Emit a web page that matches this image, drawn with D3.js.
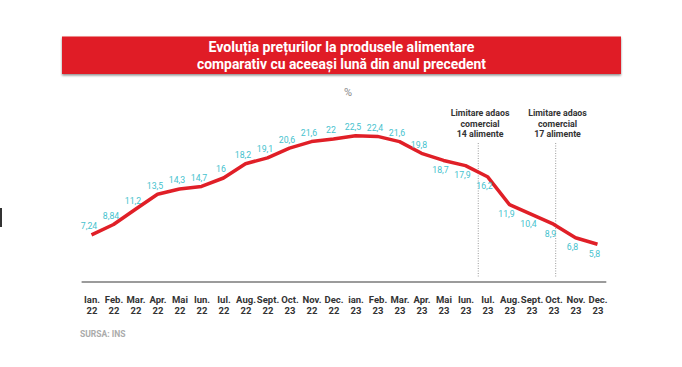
<!DOCTYPE html>
<html>
<head>
<meta charset="utf-8">
<script src="https://cdn.jsdelivr.net/npm/d3@7/dist/d3.min.js"></script>
<style>
  html, body { margin: 0; padding: 0; background: #fff; }
  svg { display: block; }
  text { font-family: Roboto, "Noto Sans", sans-serif; }
</style>
</head>
<body>
<svg id="chart" width="682" height="367"></svg>
<script>
// ---- data ----
const months = ["Ian.","Feb.","Mar.","Apr.","Mai","Iun.","Iul.","Aug.","Sept.","Oct.","Nov.","Dec.",
                "ian.","Feb.","Mar.","Apr.","Mai","Iun.","Iul.","Aug.","Sept.","Oct.","Nov.","Dec."];
const years = ["22","22","22","22","22","22","22","22","22","23","22","22",
               "23","23","23","23","23","23","23","23","23","23","23","23"];
const values = [7.24, 8.84, 11.2, 13.5, 14.3, 14.7, 16, 18.2, 19.1, 20.6, 21.6, 22,
                22.5, 22.4, 21.6, 19.8, 18.7, 17.9, 16.2, 11.9, 10.4, 8.9, 6.8, 5.8];
const valueLabels = ["7,24","8,84","11,2","13,5","14,3","14,7","16","18,2","19,1","20,6","21,6","22",
                     "22,5","22,4","21,6","19,8","18,7","17,9","16,2","11,9","10,4","8,9","6,8","5,8"];
const annotationAt = [17.58, 21.1];
const annotationLines = [["Limitare adaos","comercial","14 alimente"],
                         ["Limitare adaos","comercial","17 alimente"]];
const titleLines = ["Evoluția prețurilor la produsele alimentare",
                    "comparativ cu aceeași lună din anul precedent"];
const unitLabel = "%";
const sourceLabel = "SURSA: INS";

// ---- drawing ----
const svg = d3.select("#chart");
const x = d3.scaleLinear().domain([0, 23]).range([91.5, 597.5]);
const y = d3.scaleLinear().domain([0, 22.5]).range([282, 135.75]);

const defs = svg.append("defs");
const f = defs.append("filter").attr("id","sh").attr("x","-5%").attr("y","-20%").attr("width","110%").attr("height","160%");
f.append("feDropShadow").attr("dx",0).attr("dy",1.5).attr("stdDeviation",1.2)
  .attr("flood-color","#000").attr("flood-opacity",0.45);

// small artifact at left edge
svg.append("rect").attr("x",0).attr("y",208).attr("width",2).attr("height",19).attr("fill","#333");

// banner
svg.append("rect").attr("x",62).attr("y",36.5).attr("width",559).attr("height",37.5)
  .attr("fill","#e01f27").attr("filter","url(#sh)");
const tl = [266, 289];
titleLines.forEach((t,i) => {
  svg.append("text").attr("x",341.5).attr("y",52 + i*17)
    .attr("text-anchor","middle").attr("font-size",14.5).attr("font-weight",700)
    .attr("fill","#fff").attr("textLength", tl[i]).attr("lengthAdjust","spacingAndGlyphs")
    .text(t);
});

// unit
svg.append("text").attr("x",348).attr("y",96).attr("text-anchor","middle")
  .attr("font-size",11).attr("fill","#8a8a8a").text(unitLabel);

// baseline
svg.append("line").attr("x1", x(-0.45)).attr("x2", x(23.4)).attr("y1", y(0)).attr("y2", y(0))
  .attr("stroke","#7a7a7a").attr("stroke-width",1.5);

// axis (labels only)
const axis = d3.axisBottom(x).tickValues(d3.range(24)).tickSize(0).tickFormat("");
const ax = svg.append("g").attr("transform",`translate(0,${y(0)})`).call(axis);
ax.select(".domain").remove();
ax.selectAll(".tick").each(function(d){
  const g = d3.select(this);
  g.append("text").attr("x",0).attr("y",20.8).attr("text-anchor","middle")
    .attr("font-size",9.5).attr("font-weight",700).attr("fill","#333").text(months[d]);
  g.append("text").attr("x",0).attr("y",31.8).attr("text-anchor","middle")
    .attr("font-size",9.5).attr("font-weight",700).attr("fill","#333").text(years[d]);
});

// annotation dotted lines + texts
annotationAt.forEach((a,k) => {
  svg.append("line").attr("x1",x(a)).attr("x2",x(a)).attr("y1",143).attr("y2",277)
    .attr("stroke","#9a9a9a").attr("stroke-width",1).attr("stroke-dasharray","1,1.5");
  const g = svg.append("g").attr("transform",`translate(${x(a)+1.8},0) scale(0.9,1)`);
  annotationLines[k].forEach((s,i) => {
    g.append("text").attr("x",0).attr("y",116.5 + i*10.3).attr("text-anchor","middle")
      .attr("font-size",9.8).attr("font-weight",700).attr("fill","#333").text(s);
  });
});

// line
const line = d3.line().x((d,i)=>x(i)).y(d=>y(d)).curve(d3.curveLinear);
svg.append("path").datum(values).attr("d",line).attr("fill","none")
  .attr("stroke","#e01f27").attr("stroke-width",3.5).attr("stroke-linejoin","round");

// value labels
svg.append("g").selectAll("g").data(values).join("g")
  .attr("transform",(d,i)=>{
    const above = i < 16;
    const lx = x(i) + (above ? -2.5 : -3);
    const ly = y(d) + (above ? -5.6 : 12.5);
    return `translate(${lx},${ly}) scale(0.92,1)`;
  })
  .append("text").attr("text-anchor","middle").attr("font-size",9.5)
  .attr("fill","#45c2ce").text((d,i)=>valueLabels[i]);

// source
svg.append("text").attr("x",80).attr("y",337).attr("font-size",8.5).attr("font-weight",700)
  .attr("fill","#ababab").text(sourceLabel);
</script>
</body>
</html>
